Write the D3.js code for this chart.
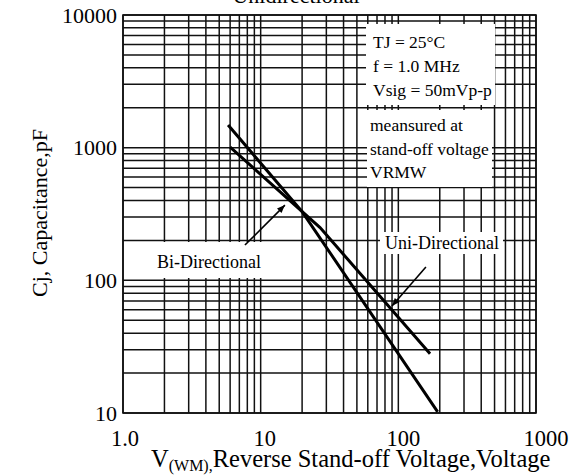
<!DOCTYPE html>
<html><head><meta charset="utf-8">
<script src="https://cdn.jsdelivr.net/npm/d3@7"></script>
<style>html,body{margin:0;padding:0;background:#fff}svg{display:block}</style>
</head><body>
<script>
// ---- data ----
const xTickValues = [1, 10, 100, 1000];
const xTickLabels = ["1.0", "10", "100", "1000"];
const yTickValues = [10, 100, 1000, 10000];
const yTickLabels = ["10", "100", "1000", "10000"];
const biV = [5.8, 20, 193];
const biC = [1480, 330, 10.2];
const uniV = [6.0, 27, 170];
const uniC = [1010, 250, 28];
const legendLines1 = ["TJ = 25°C", "f = 1.0 MHz", "Vsig = 50mVp-p"];
const legendLines2 = ["meansured at", "stand-off voltage", "VRMW"];
const titleText = "Unidirectional";
const yTitle = "Cj, Capacitance,pF";

const W = 572, H = 476;
const L = 123, R = 536, T = 15, B = 413;
const font = "'Liberation Serif','Times New Roman',serif";

const svg = d3.select("body").append("svg").attr("width", W).attr("height", H);
const x = d3.scaleLog().domain([1, 1000]).range([L, R]);
const y = d3.scaleLog().domain([10, 10000]).range([B, T]);

// grid values
const xGrid = [], yGrid = [];
[1, 10, 100].forEach(d => { for (let k = 1; k <= 9; k++) xGrid.push(k * d); });
xGrid.push(1000);
[10, 100, 1000].forEach(d => { for (let k = 1; k <= 9; k++) yGrid.push(k * d); });
yGrid.push(10000);

const g = svg.append("g");
g.selectAll("line.vx").data(xGrid).join("line")
  .attr("x1", d => x(d)).attr("x2", d => x(d)).attr("y1", T).attr("y2", B)
  .attr("stroke", "#111").attr("stroke-width", 1.5);
g.selectAll("line.hy").data(yGrid).join("line")
  .attr("y1", d => y(d)).attr("y2", d => y(d)).attr("x1", L).attr("x2", R)
  .attr("stroke", "#111").attr("stroke-width", 1.5);
g.append("rect").attr("x", L).attr("y", T).attr("width", R - L).attr("height", B - T)
  .attr("fill", "none").attr("stroke", "#111").attr("stroke-width", 1.6);

// white boxes
const boxes = [
  {x: 366, y: 24, w: 129, h: 81},
  {x: 367, y: 110, w: 125, h: 77},
  {x: 124, y: 242, w: 139, h: 36},
  {x: 380, y: 232, w: 123, h: 22}
];
svg.selectAll("rect.box").data(boxes).join("rect")
  .attr("x", d => d.x).attr("y", d => d.y).attr("width", d => d.w).attr("height", d => d.h)
  .attr("fill", "#fff");

// curves
const line = d3.line().x(d => x(d[0])).y(d => y(d[1]));
[[biV, biC], [uniV, uniC]].forEach(([vs, cs]) => {
  svg.append("path").datum(vs.map((v, i) => [v, cs[i]]))
    .attr("d", line).attr("fill", "none").attr("stroke", "#000").attr("stroke-width", 3);
});

// arrows
const defs = svg.append("defs");
defs.append("marker").attr("id", "ah").attr("viewBox", "0 0 10 10").attr("refX", 10).attr("refY", 5)
  .attr("markerWidth", 11).attr("markerHeight", 8).attr("markerUnits", "userSpaceOnUse").attr("orient", "auto")
  .append("path").attr("d", "M0,1 L10,5 L0,9 Z").attr("fill", "#000");
const arrows = [
  {from: [7.69, 184.5], to: [15.0, 369]},
  {from: [158.6, 126], to: [89.9, 64]}
];
svg.selectAll("line.arr").data(arrows).join("line")
  .attr("x1", d => x(d.from[0])).attr("y1", d => y(d.from[1]))
  .attr("x2", d => x(d.to[0])).attr("y2", d => y(d.to[1]))
  .attr("stroke", "#000").attr("stroke-width", 1.6).attr("marker-end", "url(#ah)");

// labels
const txt = (s, px, py, size, anchor) => svg.append("text").attr("x", px).attr("y", py)
  .attr("font-family", font).attr("font-size", size).attr("text-anchor", anchor || "start")
  .attr("fill", "#000").text(s);
txt("Bi-Directional", 209, 268, 18, "middle");
txt("Uni-Directional", 442, 249, 18, "middle");
legendLines1.forEach((s, i) => txt(s, 373, 48 + i * 24, 17.5));
legendLines2.forEach((s, i) => txt(s, 370, 131 + i * 23.5, 17.5));

// tick labels
const xDx = [2, 4, 5, 10];
svg.selectAll("text.yt").data(yTickValues).join("text")
  .attr("x", 117).attr("y", d => y(d)).attr("dy", "0.35em").attr("text-anchor", "end")
  .attr("font-family", font).attr("font-size", 22).text((d, i) => yTickLabels[i]);
svg.selectAll("text.xt").data(xTickValues).join("text")
  .attr("x", (d, i) => x(d) + xDx[i]).attr("y", 446).attr("text-anchor", "middle")
  .attr("font-family", font).attr("font-size", 22.5).text((d, i) => xTickLabels[i]);

// titles
txt(titleText, 296, 3, 22, "middle");
svg.append("text").attr("transform", "translate(47,213) rotate(-90)").attr("text-anchor", "middle")
  .attr("font-family", font).attr("font-size", 22).text(yTitle);
const xt = svg.append("text").attr("x", 151).attr("y", 467).attr("font-family", font).attr("font-size", 24.5);
xt.append("tspan").text("V");
xt.append("tspan").attr("font-size", 16).attr("dy", 4).text("(WM),");
xt.append("tspan").attr("dy", -4).text("Reverse Stand-off Voltage,Voltage");
</script>
</body></html>
